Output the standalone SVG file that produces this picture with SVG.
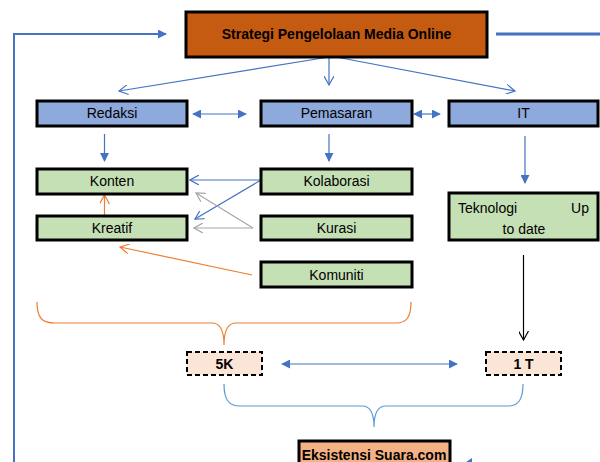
<svg xmlns="http://www.w3.org/2000/svg" width="600" height="462" viewBox="0 0 600 462">
<style>
text{font-family:"Liberation Sans",Arial,sans-serif;font-size:14px;fill:#000;}
.b{font-weight:bold;}
.box{stroke:#000;stroke-width:3;}
.blue{fill:#8EA9DB;}
.green{fill:#C5E0B4;}
.dash{fill:#FBE5D6;stroke:#000;stroke-width:2;stroke-dasharray:5,3;}
.c{fill:none;stroke-width:1.2;}
</style>
<defs>
<marker id="ob" viewBox="0 0 10 10" refX="9" refY="5" markerWidth="10" markerHeight="10" markerUnits="userSpaceOnUse" orient="auto"><path d="M0,0 L9,5 L0,10" fill="none" stroke="#4472C4" stroke-width="1.2"/></marker>
<marker id="og" viewBox="0 0 10 10" refX="9" refY="5" markerWidth="10" markerHeight="10" markerUnits="userSpaceOnUse" orient="auto"><path d="M0,0 L9,5 L0,10" fill="none" stroke="#A6A6A6" stroke-width="1.2"/></marker>
<marker id="oo" viewBox="0 0 10 10" refX="9" refY="5" markerWidth="10" markerHeight="10" markerUnits="userSpaceOnUse" orient="auto"><path d="M0,0 L9,5 L0,10" fill="none" stroke="#ED7D31" stroke-width="1.2"/></marker>
<marker id="ok" viewBox="0 0 10 10" refX="9" refY="5" markerWidth="10" markerHeight="10" markerUnits="userSpaceOnUse" orient="auto"><path d="M0,0 L9,5 L0,10" fill="none" stroke="#000" stroke-width="1.2"/></marker>
<marker id="fb" viewBox="0 0 10 10" refX="9" refY="5" markerWidth="9" markerHeight="9" markerUnits="userSpaceOnUse" orient="auto-start-reverse"><path d="M0,0 L10,5 L0,10 Z" fill="#4472C4"/></marker>
</defs>

<g id="connectors">
<path d="M14,462 L14,34 L166,34" fill="none" stroke="#4472C4" stroke-width="2" marker-end="url(#fb)"/>
<path d="M496,34 L600,34" fill="none" stroke="#4472C4" stroke-width="3"/>
<path d="M329,57 L119,91" class="c" stroke="#4472C4" marker-end="url(#ob)"/>
<path d="M329,57 L329,85" class="c" stroke="#4472C4" marker-end="url(#ob)"/>
<path d="M336,57 L515,91" class="c" stroke="#4472C4" marker-end="url(#ob)"/>
<path d="M193,114 L246,114" class="c" stroke="#4472C4" marker-start="url(#fb)" marker-end="url(#fb)"/>
<path d="M414,114 L440,114" class="c" stroke="#4472C4" marker-start="url(#fb)" marker-end="url(#fb)"/>
<path d="M104.5,134 L104.5,161" class="c" stroke="#4472C4" marker-end="url(#fb)"/>
<path d="M329,134 L329,161" class="c" stroke="#4472C4" marker-end="url(#fb)"/>
<path d="M525,136 L525,183" class="c" stroke="#4472C4" marker-end="url(#fb)"/>
<path d="M261,180 L190,180" class="c" stroke="#4472C4" marker-end="url(#ob)"/>
<path d="M261,180 L195,219" class="c" stroke="#4472C4" marker-end="url(#ob)"/>
<path d="M253,228 L196,193" class="c" stroke="#A6A6A6" marker-end="url(#og)"/>
<path d="M253,228 L194,228" class="c" stroke="#A6A6A6" marker-end="url(#og)"/>
<path d="M252,275 L120,247" class="c" stroke="#ED7D31" marker-end="url(#oo)"/>
<path d="M104.5,216 L104.5,195" class="c" stroke="#ED7D31" marker-end="url(#oo)"/>
<path d="M523.5,255 L523.5,340" class="c" stroke="#000" marker-end="url(#ok)"/>
<path d="M282,364 L457,364" class="c" stroke="#4472C4" marker-start="url(#fb)" marker-end="url(#fb)"/>
<path d="M37,302 C37,318 42,323 55,323 L212,323 C220,323 224,330 224,345 C224,330 228,323 236,323 L396,323 C406,323 411,318 411,302" class="c" stroke="#ED7D31"/>
<path d="M224,384 C224,400 229,406 240,406 L362,406 C370,406 374,412 374,427 C374,412 378,406 386,406 L508,406 C518,406 523,400 523,384" class="c" stroke="#5B9BD5"/>
<path d="M466,462 L472,458 L472,462 Z" fill="#4472C4"/>
</g>

<g id="strategi">
<rect x="186" y="12" width="301" height="45" fill="#C55A11" class="box"/>
<text x="336.5" y="39" text-anchor="middle" class="b">Strategi Pengelolaan Media Online</text>
</g>
<g id="redaksi">
<rect x="37" y="101" width="150" height="25" class="box blue"/>
<text x="112" y="118" text-anchor="middle">Redaksi</text>
</g>
<g id="pemasaran">
<rect x="261" y="101" width="151" height="25" class="box blue"/>
<text x="336.5" y="118" text-anchor="middle">Pemasaran</text>
</g>
<g id="it">
<rect x="449" y="101" width="149" height="25" class="box blue"/>
<text x="523.5" y="118" text-anchor="middle">IT</text>
</g>
<g id="konten">
<rect x="37" y="169" width="150" height="25" class="box green"/>
<text x="112" y="186" text-anchor="middle">Konten</text>
</g>
<g id="kreatif">
<rect x="37" y="216" width="150" height="24" class="box green"/>
<text x="112" y="233" text-anchor="middle">Kreatif</text>
</g>
<g id="kolaborasi">
<rect x="261" y="169" width="151" height="25" class="box green"/>
<text x="336.5" y="186" text-anchor="middle">Kolaborasi</text>
</g>
<g id="kurasi">
<rect x="261" y="216" width="151" height="24" class="box green"/>
<text x="336.5" y="233" text-anchor="middle">Kurasi</text>
</g>
<g id="komuniti">
<rect x="261" y="262" width="151" height="25" class="box green"/>
<text x="336.5" y="280" text-anchor="middle">Komuniti</text>
</g>
<g id="teknologi">
<rect x="449" y="193" width="149" height="47" class="box green"/>
<text x="458" y="213">Teknologi</text>
<text x="589" y="213" text-anchor="end">Up</text>
<text x="524" y="234" text-anchor="middle">to date</text>
</g>
<g id="k5">
<rect x="187" y="352" width="75" height="23" class="dash"/>
<text x="224.5" y="369" text-anchor="middle" class="b">5K</text>
</g>
<g id="t1">
<rect x="486" y="352" width="75" height="23" class="dash"/>
<text x="523.5" y="369" text-anchor="middle" class="b">1 T</text>
</g>
<g id="eksistensi">
<rect x="299" y="441" width="151" height="25" fill="#F4B183" class="box"/>
<text x="374" y="460" text-anchor="middle" class="b">Eksistensi Suara.com</text>
</g>
</svg>
